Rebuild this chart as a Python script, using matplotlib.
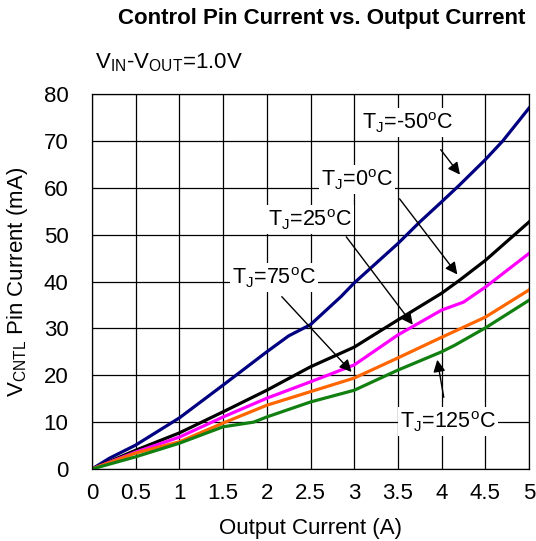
import numpy as np
import matplotlib
matplotlib.use('Agg')
import matplotlib.pyplot as plt

plt.rcParams['font.family'] = ['Liberation Sans', 'DejaVu Sans']
plt.rcParams['mathtext.fontset'] = 'custom'
plt.rcParams['mathtext.rm'] = 'Liberation Sans'

# control pin current (mA) vs output current (A), one curve per junction temp
x_m50 = [0, 0.2, 0.5, 1.0, 1.5, 2.0, 2.25, 2.5, 2.85, 3.0, 3.5, 3.75, 4.0, 4.2, 4.5, 4.7, 5.0]
y_m50 = [0, 2.3, 5.1, 10.9, 17.9, 25.0, 28.4, 30.8, 36.8, 39.7, 48.1, 52.7, 57.0, 60.5, 66.0, 70.0, 77.0]

x_0 = [0, 0.5, 1.0, 1.5, 2.0, 2.5, 3.0, 3.5, 4.0, 4.2, 4.5, 5.0]
y_0 = [0, 4.0, 7.7, 12.2, 16.8, 21.8, 26.0, 31.8, 37.5, 40.2, 44.5, 52.7]

x_25 = [0, 0.5, 1.0, 1.5, 2.0, 2.5, 3.0, 3.5, 4.0, 4.25, 4.5, 5.0]
y_25 = [0, 3.6, 6.8, 11.1, 15.1, 18.6, 22.2, 28.6, 33.9, 35.6, 38.8, 46.0]

x_75 = [0, 0.5, 1.0, 1.5, 2.0, 2.5, 3.0, 3.5, 4.0, 4.5, 5.0]
y_75 = [0, 3.4, 5.8, 9.8, 13.6, 16.5, 19.4, 23.7, 28.1, 32.4, 38.2]

x_125 = [0, 0.5, 1.0, 1.5, 1.85, 2.0, 2.5, 3.0, 3.5, 4.0, 4.15, 4.5, 5.0]
y_125 = [0, 2.6, 5.5, 9.0, 10.0, 11.1, 14.3, 16.8, 21.1, 25.0, 26.4, 30.1, 36.0]

x_ticks = [0, 0.5, 1, 1.5, 2, 2.5, 3, 3.5, 4, 4.5, 5]
x_tick_labels = ['0', '0.5', '1', '1.5', '2', '2.5', '3', '3.5', '4', '4.5', '5']
y_ticks = [0, 10, 20, 30, 40, 50, 60, 70, 80]

fig = plt.figure(figsize=(5.36, 5.41), dpi=100)
ax = fig.add_axes([0.1716, 0.1331, 0.8154, 0.6931])

lw = 2.3
ax.plot(x_m50, y_m50, color='#000080', lw=lw)
ax.plot(x_0, y_0, color='#000000', lw=lw)
ax.plot(x_25, y_25, color='#ff00ff', lw=lw)
ax.plot(x_75, y_75, color='#ff6600', lw=lw)
ax.plot(x_125, y_125, color='#118011', lw=lw)

ax.set_xlim(0, 5)
ax.set_ylim(0, 80)
ax.set_xticks(x_ticks)
ax.set_xticklabels(x_tick_labels)
ax.set_yticks(y_ticks)
ax.tick_params(length=0, labelsize=16)
ax.tick_params(axis='x', pad=10)
ax.tick_params(axis='y', pad=17)
ax.grid(True, color='black', lw=0.9)
ax.set_axisbelow(True)
for s in ax.spines.values():
    s.set_linewidth(0.9)

ax.set_xlabel('Output Current (A)', fontsize=16, labelpad=10)
ax.set_ylabel(r'V$_\mathregular{CNTL}$ Pin Current (mA)', fontsize=16, labelpad=10)

fig.text(0.6, 0.965, 'Control Pin Current vs. Output Current',
         ha='center', va='center', fontsize=16, fontweight='bold')
fig.text(0.178, 0.885, r'V$_\mathregular{IN}$-V$_\mathregular{OUT}$=1.0V',
         ha='left', va='center', fontsize=16)

# labels with arrows pointing at each curve
box = dict(facecolor='white', edgecolor='none', pad=1.5)
arrow = dict(arrowstyle='-|>', color='black', lw=1.0, mutation_scale=18,
             shrinkA=2, shrinkB=0)
notes = [
    (r'T$_\mathregular{J}$=-50$^\mathregular{o}$C', (4.21, 62.8), (3.61, 73.9), (3.97, 68.6)),
    (r'T$_\mathregular{J}$=0$^\mathregular{o}$C', (4.18, 41.5), (3.03, 61.8), (3.50, 58.1)),
    (r'T$_\mathregular{J}$=25$^\mathregular{o}$C', (3.67, 30.8), (2.49, 53.2), (2.89, 50.0)),
    (r'T$_\mathregular{J}$=75$^\mathregular{o}$C', (2.97, 20.7), (2.08, 40.8), (2.15, 37.2)),
    (r'T$_\mathregular{J}$=125$^\mathregular{o}$C', (3.95, 23.3), (4.07, 10.1), (4.03, 14.7)),
]
for label, tip, txt, tail in notes:
    ax.text(txt[0], txt[1], label, ha='center', va='center', fontsize=15.5, bbox=box)
    ax.annotate('', xy=tip, xytext=tail, arrowprops=arrow)

fig.savefig('out.png', dpi=100)
